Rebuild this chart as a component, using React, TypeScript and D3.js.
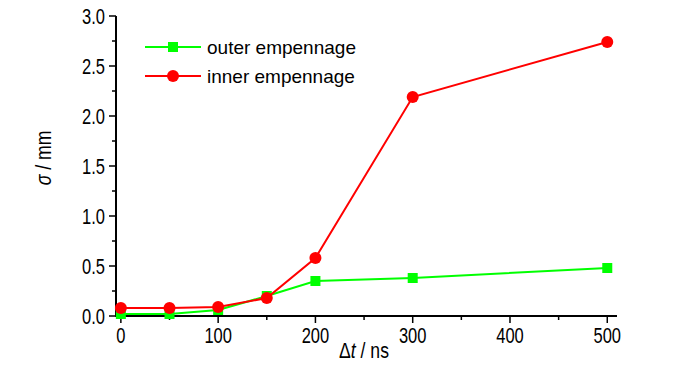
import React from 'react';
import * as d3 from 'd3';

const times = [0, 50, 100, 150, 200, 300, 500];
const outerSigma = [0.02, 0.02, 0.06, 0.2, 0.35, 0.38, 0.48];
const innerSigma = [0.08, 0.08, 0.09, 0.18, 0.58, 2.19, 2.74];
const xTicks = [0, 100, 200, 300, 400, 500];
const yTicks = [0, 0.5, 1, 1.5, 2, 2.5, 3];
const seriesNames = ['outer empennage', 'inner empennage'];

const GREEN = '#00ff00';
const RED = '#ff0000';

export default function App() {
  const ref = React.useRef<SVGSVGElement>(null);

  React.useEffect(() => {
    const svg = d3.select(ref.current);
    svg.selectAll('*').remove();

    const x = d3.scaleLinear().domain([-5, 510]).range([116, 617]);
    const y = d3.scaleLinear().domain([0, 3]).range([316, 16]);
    const font = '"Liberation Sans", Arial, sans-serif';
    const squeeze = 0.75;

    // helper for the narrow-looking labels
    const narrowText = (parent: any, tx: number, ty: number, anchor: string, size: number) =>
      parent.append('g').attr('transform', `translate(${tx},${ty}) scale(${squeeze},1)`)
        .append('text').attr('text-anchor', anchor).attr('font-family', font).attr('font-size', size);

    // x axis
    const gx = svg.append('g').attr('transform', `translate(0,${y(0)})`);
    gx.append('line').attr('x1', x(-5)).attr('x2', x(510)).attr('stroke', '#000').attr('stroke-width', 2);
    d3.range(0, 501, 50).forEach(v => {
      const major = v % 100 === 0;
      gx.append('line').attr('x1', x(v)).attr('x2', x(v)).attr('y1', 0).attr('y2', major ? 7 : 4)
        .attr('stroke', '#000').attr('stroke-width', 1.5);
    });
    xTicks.forEach(v => {
      narrowText(gx, x(v), 27, 'middle', 22).text(String(v));
    });

    // y axis
    const gy = svg.append('g').attr('transform', `translate(${x(-5)},0)`);
    gy.append('line').attr('y1', y(0) + 1).attr('y2', y(3)).attr('stroke', '#000').attr('stroke-width', 2);
    d3.range(0, 3.01, 0.25).forEach(v => {
      const major = Math.abs(v * 2 - Math.round(v * 2)) < 1e-6;
      gy.append('line').attr('y1', y(v)).attr('y2', y(v)).attr('x1', 0).attr('x2', major ? -7 : -4)
        .attr('stroke', '#000').attr('stroke-width', 1.5);
    });
    yTicks.forEach(v => {
      narrowText(gy, -11, y(v), 'end', 22).attr('dy', '0.36em').text(v.toFixed(1));
    });

    // axis titles
    const yt = svg.append('g').attr('transform', `translate(51,158) rotate(-90) scale(0.8,1)`)
      .append('text').attr('text-anchor', 'middle').attr('font-family', font).attr('font-size', 22);
    yt.append('tspan').attr('font-style', 'italic').text('σ');
    yt.append('tspan').text(' / mm');

    const xt = svg.append('g').attr('transform', `translate(364,358) scale(0.8,1)`)
      .append('text').attr('text-anchor', 'middle').attr('font-family', font).attr('font-size', 22);
    xt.append('tspan').text('Δ');
    xt.append('tspan').attr('font-style', 'italic').text('t');
    xt.append('tspan').text(' / ns');

    const line = d3.line<number>().x((_, i) => x(times[i])).y(d => y(d));

    // outer (green, squares)
    svg.append('path').attr('d', line(outerSigma)).attr('fill', 'none').attr('stroke', GREEN).attr('stroke-width', 2);
    svg.selectAll('.sq').data(outerSigma).enter().append('rect')
      .attr('x', (_, i) => x(times[i]) - 5).attr('y', d => y(d) - 5)
      .attr('width', 10).attr('height', 10).attr('fill', GREEN);

    // inner (red, circles)
    svg.append('path').attr('d', line(innerSigma)).attr('fill', 'none').attr('stroke', RED).attr('stroke-width', 2);
    svg.selectAll('.ci').data(innerSigma).enter().append('circle')
      .attr('cx', (_, i) => x(times[i])).attr('cy', d => y(d)).attr('r', 6).attr('fill', RED);

    // legend
    const colors = [GREEN, RED];
    seriesNames.forEach((name, i) => {
      const ly = 47 + i * 29;
      const g = svg.append('g');
      g.append('line').attr('x1', 145).attr('x2', 201).attr('y1', ly).attr('y2', ly)
        .attr('stroke', colors[i]).attr('stroke-width', 2);
      if (i === 0) {
        g.append('rect').attr('x', 168).attr('y', ly - 5).attr('width', 10).attr('height', 10).attr('fill', GREEN);
      } else {
        g.append('circle').attr('cx', 173).attr('cy', ly).attr('r', 6).attr('fill', RED);
      }
      g.append('text').attr('x', 207).attr('y', ly).attr('dy', '0.36em')
        .attr('font-family', font).attr('font-size', 19).text(name);
    });
  }, []);

  return <svg ref={ref} width={700} height={374} style={{ position: 'absolute', left: 0, top: 0, background: '#fff' }} />;
}
